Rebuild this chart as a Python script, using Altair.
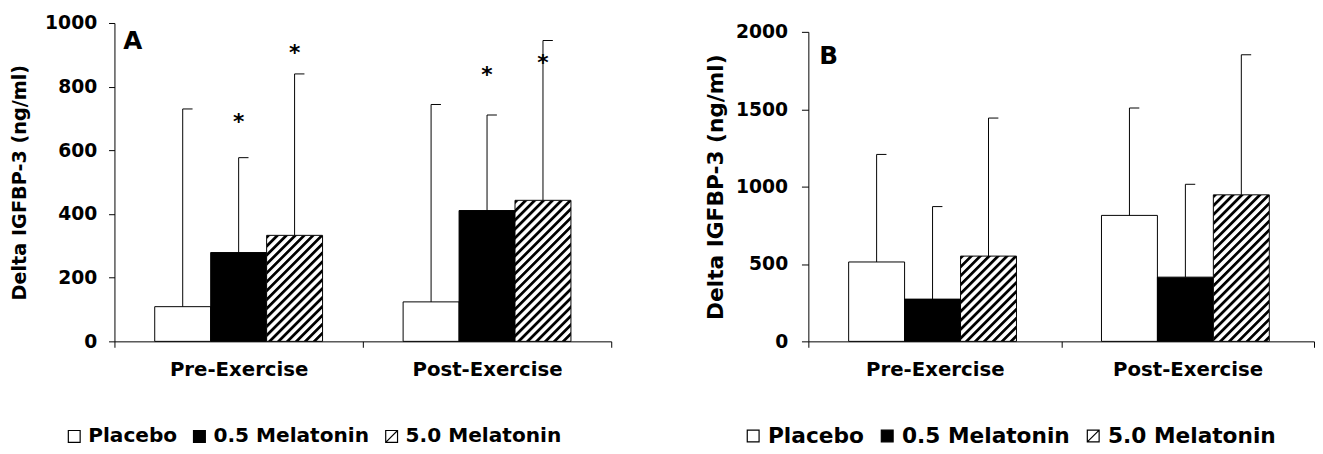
import urllib.parse
import altair as alt
import pandas as pd

# ---------------- data ----------------
groups = ["Pre-Exercise", "Post-Exercise"]
treatments = ["Placebo", "0.5 Melatonin", "5.0 Melatonin"]

a_pre_mean = [109, 279, 333]
a_post_mean = [124, 411, 443]
a_pre_sd_top = [730, 577, 840]
a_post_sd_top = [744, 711, 945]
a_pre_star = [None, 689, 905]
a_post_star = [None, 835, 874]

b_pre_mean = [513, 273, 551]
b_post_mean = [814, 415, 947]
b_pre_sd_top = [1208, 871, 1443]
b_post_sd_top = [1508, 1015, 1852]

a_ticks = [0, 200, 400, 600, 800, 1000]
b_ticks = [0, 500, 1000, 1500, 2000]

y_title = "Delta IGFBP-3 (ng/ml)"


def build_df(pre_mean, post_mean, pre_top, post_top, pre_star, post_star):
    rows = []
    for g, means, tops, stars in [
        (groups[0], pre_mean, pre_top, pre_star),
        (groups[1], post_mean, post_top, post_star),
    ]:
        for t, m, tp, s in zip(treatments, means, tops, stars):
            rows.append({"group": g, "treatment": t, "mean": m, "top": tp, "star": s})
    return pd.DataFrame(rows)


df_a = build_df(a_pre_mean, a_post_mean, a_pre_sd_top, a_post_sd_top, a_pre_star, a_post_star)
df_b = build_df(b_pre_mean, b_post_mean, b_pre_sd_top, b_post_sd_top, [None] * 3, [None] * 3)

FONT = "DejaVu Sans"

hatch_svg = (
    '<svg xmlns="http://www.w3.org/2000/svg" width="100%" height="100%">'
    '<defs><pattern id="h" patternUnits="userSpaceOnUse" width="6.4" height="6.4" '
    'patternTransform="rotate(45)"><rect x="0" y="-1" width="2.8" height="8.4" fill="black"/>'
    '</pattern></defs><rect x="0" y="0" width="100%" height="100%" fill="url(#h)"/></svg>'
)
hatch_url = "data:image/svg+xml;charset=utf-8," + urllib.parse.quote(hatch_svg)

fill_range = ["white", "black", "white"]
stroke_range = ["black", "black", "black"]
shape_range = ["square", "square", "M-1,-1H1V1H-1Z M-1,1L1,-1"]


def panel(df, width, height, ymax, yticks, yrange_top, title_size, title_pad, ytick_size,
          ylabel_pad, legend_x, legend_y, legend_font, letter, letter_x, letter_y, pad_outer):
    x_enc = alt.X(
        "group:N",
        sort=groups,
        scale=alt.Scale(domain=groups, paddingInner=0, paddingOuter=0),
        axis=alt.Axis(title=None, labelAngle=0, tickBand="extent", tickSize=6,
                      labelPadding=13, labelFontSize=20),
    )
    xo_enc = alt.XOffset(
        "treatment:N",
        sort=treatments,
        scale=alt.Scale(domain=treatments, paddingInner=0, paddingOuter=pad_outer),
    )
    y_axis = alt.Axis(values=yticks, format="d", title=y_title, titleFontSize=title_size,
                      titlePadding=title_pad, tickSize=ytick_size, labelPadding=ylabel_pad,
                      labelFontSize=19, grid=False)
    y_scale = alt.Scale(domain=[0, ymax], nice=False, zero=True,
                        range=[height, yrange_top])

    def Y(field):
        return alt.Y(field, stack=None, scale=y_scale, axis=y_axis)

    legend = alt.Legend(
        title=None, orient="none", legendX=legend_x, legendY=legend_y,
        direction="horizontal", symbolSize=144, symbolStrokeColor="black",
        symbolStrokeWidth=1.2, symbolOpacity=1, labelFont=FONT, labelFontWeight="bold",
        labelFontSize=legend_font, labelColor="black", labelOffset=4,
        columnPadding=12, padding=0, labelLimit=400,
    )

    base = alt.Chart(df)

    # legend carriers, hidden underneath the bars (drawn first)
    legend_pts = base.transform_calculate(mid="datum.mean / 2").mark_point(
        filled=True, size=144, strokeWidth=1, opacity=1
    ).encode(
        x=x_enc, xOffset=xo_enc, y=Y("mid:Q"),
        fill=alt.Fill("treatment:N", scale=alt.Scale(domain=treatments, range=fill_range),
                      legend=legend),
        stroke=alt.Stroke("treatment:N",
                          scale=alt.Scale(domain=treatments, range=stroke_range),
                          legend=legend),
        shape=alt.Shape("treatment:N", scale=alt.Scale(domain=treatments, range=shape_range),
                        legend=legend),
    )

    bars = base.mark_bar(stroke="black", strokeWidth=1, opacity=1).encode(
        x=x_enc, xOffset=xo_enc, y=Y("mean:Q"),
        color=alt.Color("treatment:N", scale=alt.Scale(domain=treatments, range=fill_range),
                        legend=None),
    )

    hatch = base.transform_filter(alt.datum.treatment == "5.0 Melatonin").mark_image(
        aspect=False, opacity=1
    ).encode(
        x=x_enc, xOffset=xo_enc, y=Y("mean:Q"), y2=alt.datum(0),
        url=alt.value(hatch_url),
    )

    err = base.mark_rule(color="black", strokeWidth=1, opacity=1).encode(
        x=x_enc, xOffset=xo_enc, y=Y("mean:Q"), y2="top:Q",
    )

    caps = base.mark_point(shape="M0,0L1,0", size=400, filled=False, color="black",
                           strokeWidth=1, opacity=1).encode(
        x=x_enc, xOffset=xo_enc, y=Y("top:Q"),
    )

    lab = alt.Chart(pd.DataFrame({"lab": [letter]})).mark_text(
        align="left", baseline="alphabetic", font=FONT, fontWeight="bold",
        fontSize=25, color="black",
    ).encode(text="lab:N", x=alt.value(letter_x), y=alt.value(letter_y))

    layers = [legend_pts, bars, hatch, err, caps, lab]

    if df["star"].notna().any():
        stars = base.transform_filter("isValid(datum.star)").mark_text(
            text="*", font=FONT, fontWeight="bold", fontSize=22, baseline="middle",
            dy=0, color="black",
        ).encode(x=x_enc, xOffset=xo_enc, y=Y("star:Q"))
        layers.append(stars)

    return alt.layer(*layers).properties(width=width, height=height)


panel_a = panel(df_a, 504, 323, 1000, a_ticks, 0, 19.5, 15, 6, 12,
                -51, 409, 20.4, "A", 9, 26, 0.72)
panel_b = panel(df_b, 513, 323, 2000, b_ticks, 9, 22, 8, 7, 14,
                -67, 408, 22, "B", 11, 42, 0.73)

chart = alt.hconcat(panel_a, panel_b, spacing=94).resolve_scale(
    color="independent", fill="independent", shape="independent", stroke="independent"
).resolve_legend(
    color="independent", fill="independent", shape="independent", stroke="independent"
).properties(
    padding={"left": 2, "top": 3, "right": 0, "bottom": 0},
    background="white",
).configure_view(stroke=None).configure_axis(
    labelFont=FONT, labelFontWeight="bold", labelColor="black",
    titleFont=FONT, titleFontWeight="bold", titleColor="black",
    domainColor="black", tickColor="black", domainWidth=1, tickWidth=1,
).configure_legend(symbolStrokeColor="black", symbolStrokeWidth=1.2)

chart.save("out.html", embed_options={"renderer": "svg", "actions": False})
